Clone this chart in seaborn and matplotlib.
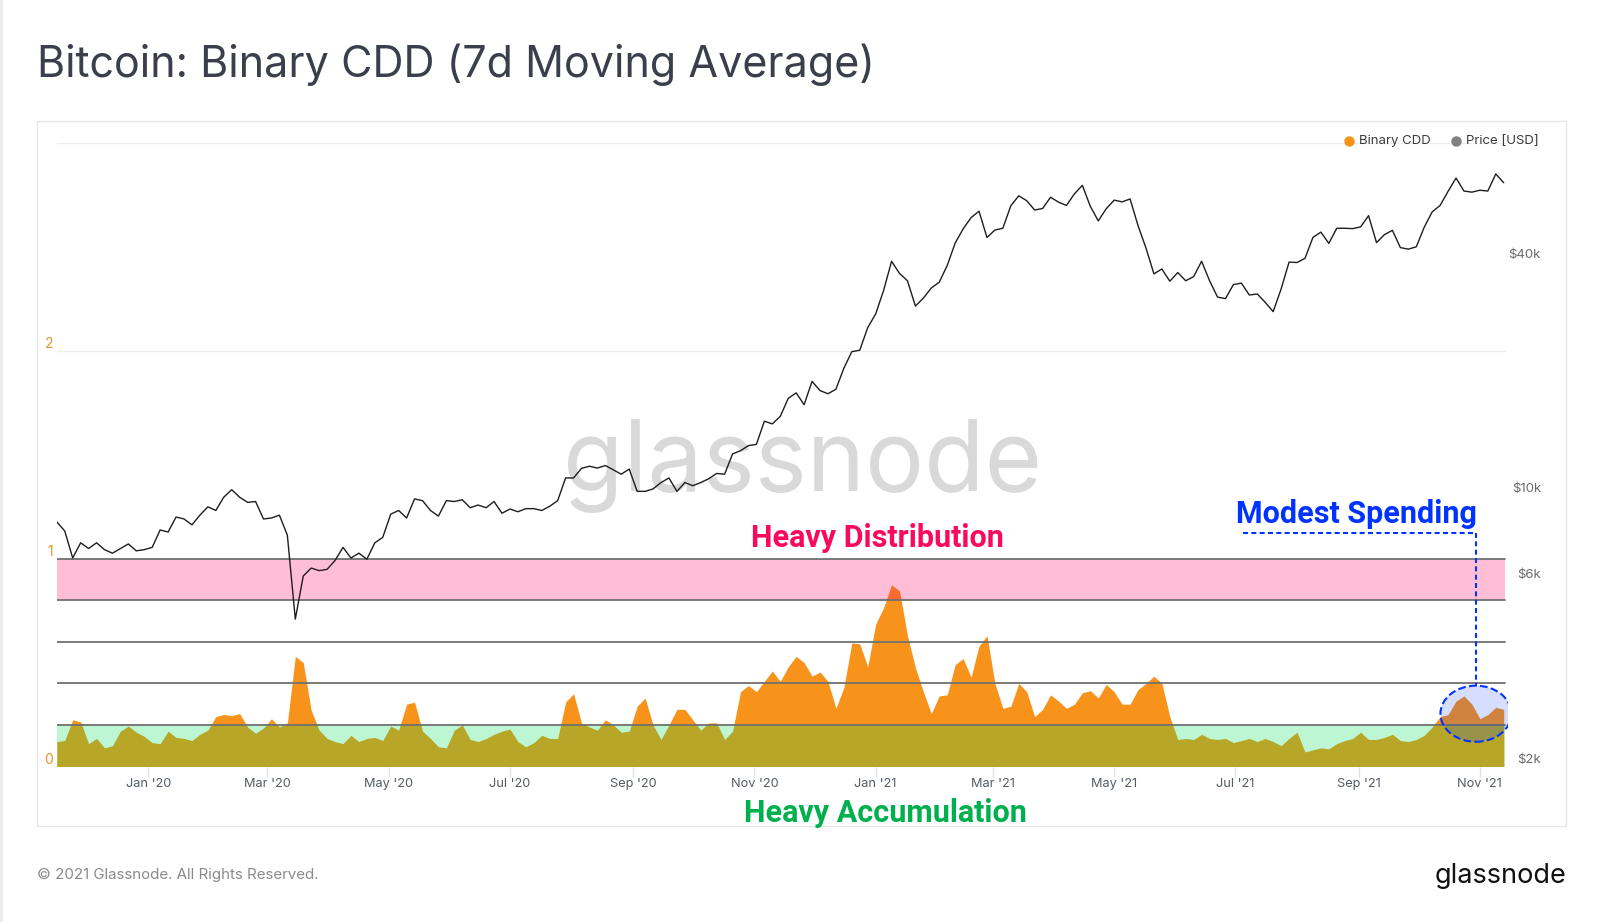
import matplotlib
matplotlib.use('Agg')
import matplotlib.pyplot as plt
import matplotlib.dates as mdates
import matplotlib.ticker as mticker
from matplotlib.patches import Rectangle, Ellipse
from matplotlib.lines import Line2D
import seaborn as sns
import numpy as np
import pandas as pd

# data, one value every 4 days from 16 Nov 2019
dates = pd.date_range('2019-11-16', periods=183, freq='4D')

cdd = [
    0.12, 0.125, 0.225, 0.215, 0.11, 0.135, 0.09, 0.10, 0.17, 0.195,
    0.165, 0.145, 0.115, 0.11, 0.17, 0.14, 0.135, 0.125, 0.155, 0.175,
    0.24, 0.25, 0.245, 0.255, 0.19, 0.16, 0.185, 0.23, 0.19, 0.21,
    0.53, 0.50, 0.27, 0.175, 0.135, 0.12, 0.11, 0.15, 0.12, 0.135,
    0.14, 0.125, 0.195, 0.175, 0.30, 0.31, 0.17, 0.135, 0.095, 0.09,
    0.175, 0.20, 0.13, 0.12, 0.135, 0.155, 0.17, 0.18, 0.12, 0.095,
    0.115, 0.15, 0.135, 0.135, 0.31, 0.35, 0.21, 0.19, 0.175, 0.225,
    0.20, 0.165, 0.17, 0.29, 0.33, 0.20, 0.13, 0.20, 0.275, 0.275,
    0.225, 0.175, 0.21, 0.21, 0.13, 0.17, 0.36, 0.39, 0.36, 0.41,
    0.46, 0.41, 0.48, 0.53, 0.50, 0.435, 0.455, 0.41, 0.28, 0.38,
    0.595, 0.59, 0.48, 0.685, 0.765, 0.875, 0.845, 0.63, 0.475, 0.36,
    0.255, 0.34, 0.345, 0.49, 0.52, 0.43, 0.58, 0.63, 0.40, 0.28,
    0.29, 0.40, 0.36, 0.24, 0.275, 0.345, 0.315, 0.28, 0.30, 0.355,
    0.365, 0.33, 0.395, 0.36, 0.30, 0.30, 0.37, 0.40, 0.435, 0.40,
    0.24, 0.13, 0.135, 0.13, 0.155, 0.135, 0.13, 0.135, 0.115, 0.125,
    0.135, 0.12, 0.135, 0.12, 0.10, 0.135, 0.165, 0.07, 0.08, 0.09,
    0.085, 0.11, 0.125, 0.135, 0.165, 0.13, 0.13, 0.14, 0.155, 0.125,
    0.12, 0.13, 0.15, 0.19, 0.24, 0.25, 0.315, 0.34, 0.30, 0.23,
    0.25, 0.285, 0.275,
]

price = [
    8550, 8100, 6900, 7550, 7300, 7550, 7250, 7100, 7300, 7500,
    7200, 7250, 7350, 8150, 8050, 8800, 8700, 8400, 8900, 9350,
    9150, 9900, 10350, 9900, 9600, 9650, 8700, 8750, 8900, 7900,
    4800, 6200, 6500, 6400, 6450, 6800, 7350, 6900, 7100, 6850,
    7550, 7800, 8950, 9150, 8750, 9800, 9700, 9150, 8850, 9700,
    9650, 9750, 9300, 9450, 9300, 9650, 9000, 9230, 9080, 9250,
    9250, 9150, 9380, 9700, 11100, 11100, 11750, 11900, 11770, 11950,
    11650, 11350, 11700, 10250, 10250, 10400, 10800, 11100, 10250, 10800,
    10600, 10800, 11050, 11400, 11350, 12800, 13050, 13450, 13550, 15550,
    15300, 16000, 17800, 18400, 17150, 19700, 18650, 18300, 18800, 21300,
    23500, 23700, 27100, 29400, 33800, 40200, 37400, 35800, 30800, 32300,
    34300, 35500, 39200, 44800, 48700, 52100, 54100, 46300, 48400, 48900,
    55900, 59300, 57600, 54500, 55000, 58800, 57100, 56000, 60000, 63100,
    55700, 51100, 54900, 57800, 57200, 58200, 49700, 43500, 37300, 38400,
    35700, 37600, 35800, 36700, 40200, 35800, 32500, 32200, 35000, 35300,
    32900, 33100, 31500, 29800, 34100, 40000, 39900, 40900, 46300, 47800,
    44700, 48900, 48900, 48800, 49300, 52700, 44900, 47100, 48300, 43600,
    43200, 43800, 49200, 53900, 56000, 60900, 65900, 61000, 60600, 61300,
    61000, 67500, 64100,
]

cdd_ticks = [0, 1, 2]
band_lines = [0.2, 0.4, 0.6, 0.8, 1.0]
price_ticks = [2000, 6000, 10000, 40000]
price_labels = ['$2k', '$6k', '$10k', '$40k']

sns.set_theme(style='white')
plt.rcParams['font.family'] = ['Inter', 'DejaVu Sans']

ORANGE = '#f7931a'
BLUE = '#0033ff'

W, H = 1600, 922
fig = plt.figure(figsize=(16, 9.22), dpi=100)
fig.patch.set_facecolor('white')


def fx(px):
    return px / W


def fy(py):
    return 1 - py / H


ax = fig.add_axes([fx(56.8), fy(766.5), fx(1507.7 - 56.8), (766.5 - 143.3) / H])
ax2 = ax.twinx()
for a in (ax, ax2):
    for s in a.spines.values():
        s.set_visible(False)

# watermark
ax.text(fx(802), fy(491), 'glassnode', transform=fig.transFigure, ha='center',
        va='baseline', fontsize=71, color='#d9d9d9', zorder=0.5)

# binary cdd area and the bands on top of it
ax.fill_between(dates, 0, cdd, color=ORANGE, lw=0, zorder=2)
ax.axhspan(0, 0.2, xmax=0.998, color='#00e052', alpha=0.26, lw=0, zorder=3)
ax.axhspan(0.8, 1.0, xmax=0.998, color='#ff0064', alpha=0.26, lw=0, zorder=3)
for v in band_lines:
    ax.axhline(v, xmax=0.998, color='#707070', lw=1.3, zorder=4)
for v in [2, 3]:
    ax.axhline(v, xmax=0.998, color='#eeeeee', lw=1, zorder=1)

ax.set_ylim(0, 3)
ax.set_xlim(dates[0], dates[-1] + pd.Timedelta(days=2))
ax.set_yticks([])

# price on log axis
sns.lineplot(x=dates, y=price, ax=ax2, color='#1e1e1e', lw=1.0)
ax2.set_yscale('log')
ax2.set_ylim(2000, 81000)
ax2.yaxis.set_major_locator(mticker.NullLocator())
ax2.yaxis.set_minor_locator(mticker.NullLocator())
ax2.set_ylabel('')
ax2.set_xlim(ax.get_xlim())

ax.xaxis.set_major_locator(mdates.MonthLocator(bymonth=[1, 3, 5, 7, 9, 11]))
ax.xaxis.set_major_formatter(mdates.DateFormatter("%b '%y"))
ax.tick_params(axis='x', bottom=True, length=7, width=1, color='#e3e3e3',
               pad=1.0, labelsize=9.2, labelcolor='#555b66')

for v in cdd_ticks:
    ax.annotate(str(v), xy=(0, v), xycoords=('axes fraction', 'data'),
                xytext=(-2.5, 5), textcoords='offset points', ha='right',
                va='center', fontsize=10, color='#e8912a')
for v, t in zip(price_ticks, price_labels):
    ax2.annotate(t, xy=(1, v), xycoords=('axes fraction', 'data'),
                 xytext=(24, 5), textcoords='offset points', ha='right',
                 va='center', fontsize=9.5, color='#6b6b6b')

# modest spending callout
x_v = pd.Timestamp('2021-10-30')
x_h0 = pd.Timestamp('2021-07-05')
y_h = 1.126
dash = (0, (2.4, 1.6))
ax.plot([x_h0, x_v], [y_h, y_h], ls=dash, color=BLUE, lw=1.5, zorder=6, clip_on=False)
ax.plot([x_v, x_v], [y_h, 0.389], ls=dash, color=BLUE, lw=1.5, zorder=6, clip_on=False)
ax.add_patch(Ellipse((mdates.date2num(x_v), 0.254), width=35.7, height=0.27,
                     facecolor=(0, 0.2, 1, 0.16), edgecolor=BLUE, ls='--',
                     lw=1.5, zorder=6))

fig.text(fx(877), fy(546.7), 'Heavy Distribution', ha='center', va='baseline',
         fontsize=22, weight='bold', color='#fa0a5a', family=['Roboto', 'DejaVu Sans'])
fig.text(fx(885), fy(822), 'Heavy Accumulation', ha='center', va='baseline',
         fontsize=22, weight='bold', color='#00b04f', family=['Roboto', 'DejaVu Sans'])
fig.text(fx(1356.7), fy(523.3), 'Modest Spending', ha='center', va='baseline',
         fontsize=22, weight='bold', color=BLUE, family=['Roboto', 'DejaVu Sans'])

# legend
fig.add_artist(Line2D([fx(1349)], [fy(140.7)], marker='o', ms=6.5, color=ORANGE,
                      transform=fig.transFigure))
fig.text(fx(1359), fy(140.7), 'Binary CDD', ha='left', va='center', fontsize=9.5,
         color='#3c3c3c')
fig.add_artist(Line2D([fx(1455.5)], [fy(140.7)], marker='o', ms=6.5, color='#808080',
                      transform=fig.transFigure))
fig.text(fx(1466), fy(140.7), 'Price [USD]', ha='left', va='center', fontsize=9.5,
         color='#3c3c3c')

# frame, title, footer
fig.add_artist(Rectangle((fx(36.7), fy(826)), fx(1566 - 36.7), (826 - 121) / H,
                         transform=fig.transFigure, fill=False,
                         edgecolor='#e6e6e6', lw=1))
fig.add_artist(Rectangle((0, 0), fx(3), 1, transform=fig.transFigure,
                         color='#ececec', lw=0))
fig.text(fx(37), fy(76.7), 'Bitcoin: Binary CDD (7d Moving Average)', ha='left',
         va='baseline', fontsize=31, color='#3a3f4b')
fig.text(fx(37), fy(875), '\u00a9 2021 Glassnode. All Rights Reserved.', ha='left',
         va='center', fontsize=10.9, color='#8a8a8a')
fig.text(fx(1566), fy(876), 'glassnode', ha='right', va='center', fontsize=19.5,
         color='#111111')

fig.savefig('out.png', dpi=100)
